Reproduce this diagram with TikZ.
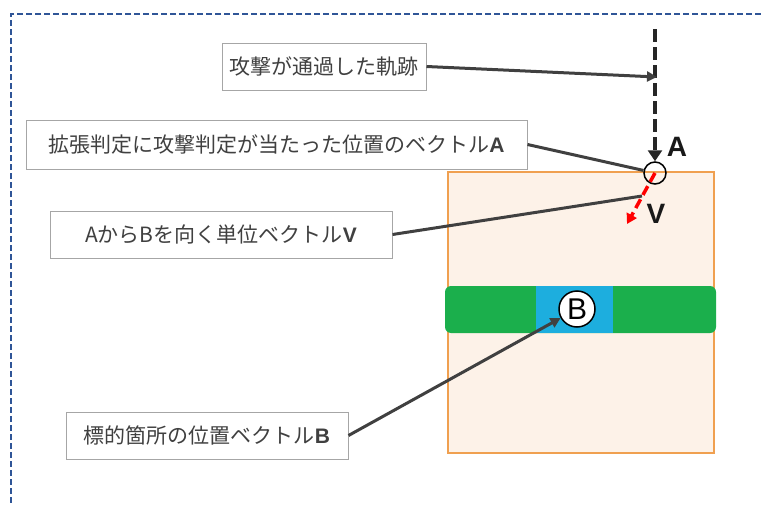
\documentclass[tikz,border=0pt]{standalone}
\usepackage{fontspec}
\setmainfont{Noto Sans CJK JP}
\newfontfamily\lat{Liberation Sans}
\usetikzlibrary{arrows.meta}
\definecolor{txtgray}{HTML}{404040}
\definecolor{boxgray}{HTML}{A6A6A6}
\definecolor{bordblue}{HTML}{2F5597}
\definecolor{orfill}{HTML}{FDF2E8}
\definecolor{orline}{HTML}{F0A050}
\definecolor{bargreen}{HTML}{1BAF4C}
\definecolor{barblue}{HTML}{1DAEDE}
\tikzset{
  labelbox/.style={draw=boxgray, line width=1pt, fill=white, text=txtgray, inner sep=0pt,
    font=\fontsize{21}{24}\selectfont},
  conn/.style={draw=txtgray, line width=3pt},
  connarrow/.style={conn, -{Triangle[length=10pt,width=10pt]}},
}
\begin{document}
\begin{tikzpicture}[x=1pt,y=-1pt]
\useasboundingbox (0,0) rectangle (761,506);
% outer dashed border
\draw[bordblue, line width=2pt, dash pattern=on 6pt off 3pt] (761,14) -- (11,14) -- (11,506);
% orange region
\draw[orline, fill=orfill, line width=1.2pt] (448,172) rectangle (714,453);
% bar
\fill[bargreen, rounded corners=6pt] (445,286) rectangle (716,333);
\fill[barblue] (536,286) rectangle (613,333);
\node[draw=black, line width=1.5pt, fill=white, circle, minimum size=36pt, inner sep=0pt,
  font=\lat\fontsize{30}{32}\selectfont] (cb) at (577,309) {B};
% circle A
\node[draw=black, line width=1.5pt, circle, minimum size=22pt, inner sep=0pt] (ca) at (655,173) {};
% labels
\node[labelbox, minimum width=204pt, minimum height=47pt] (b1) at (324,66.5) {攻撃が通過した軌跡};
\node[labelbox, minimum width=501pt, minimum height=49pt] (b2) at (276.5,144.5) {拡張判定に攻撃判定が当たった位置のベクトル{\lat\bfseries A}};
\node[labelbox, minimum width=342pt, minimum height=47pt] (b3) at (221,234.5) {AからBを向く単位ベクトル{\lat\bfseries V}};
\node[labelbox, minimum width=282pt, minimum height=47pt] (b4) at (207,435.5) {標的箇所の位置ベクトル{\lat\bfseries B}};
% trajectory
\coordinate (top) at (655,29);
\coordinate (mid) at (657,77);
\draw[black!85, line width=4.5pt, dash pattern=on 13pt off 5pt, -{Triangle[length=11pt,width=14pt]}] (top) -- (ca.north);
% red V arrow
\coordinate (vtip) at (627,224);
\draw[red, line width=3.5pt, dash pattern=on 10pt off 5pt, -{Triangle[length=10pt,width=11pt]}] (ca.center) -- (vtip);
% letters
\node[font=\lat\bfseries\fontsize{28}{30}\selectfont, text=black!90] (la) at (677,147) {A};
\node[font=\lat\bfseries\fontsize{28}{30}\selectfont, text=black!90] (lv) at (656,214) {V};
% connectors
\coordinate (vpt) at (642,196);
\draw[connarrow] (b1.east) -- (mid);
\draw[conn] (b2.east) -- (ca);
\draw[conn] (b3.east) -- (vpt);
\draw[connarrow] (b4.east) -- (cb);
\end{tikzpicture}
\end{document}
